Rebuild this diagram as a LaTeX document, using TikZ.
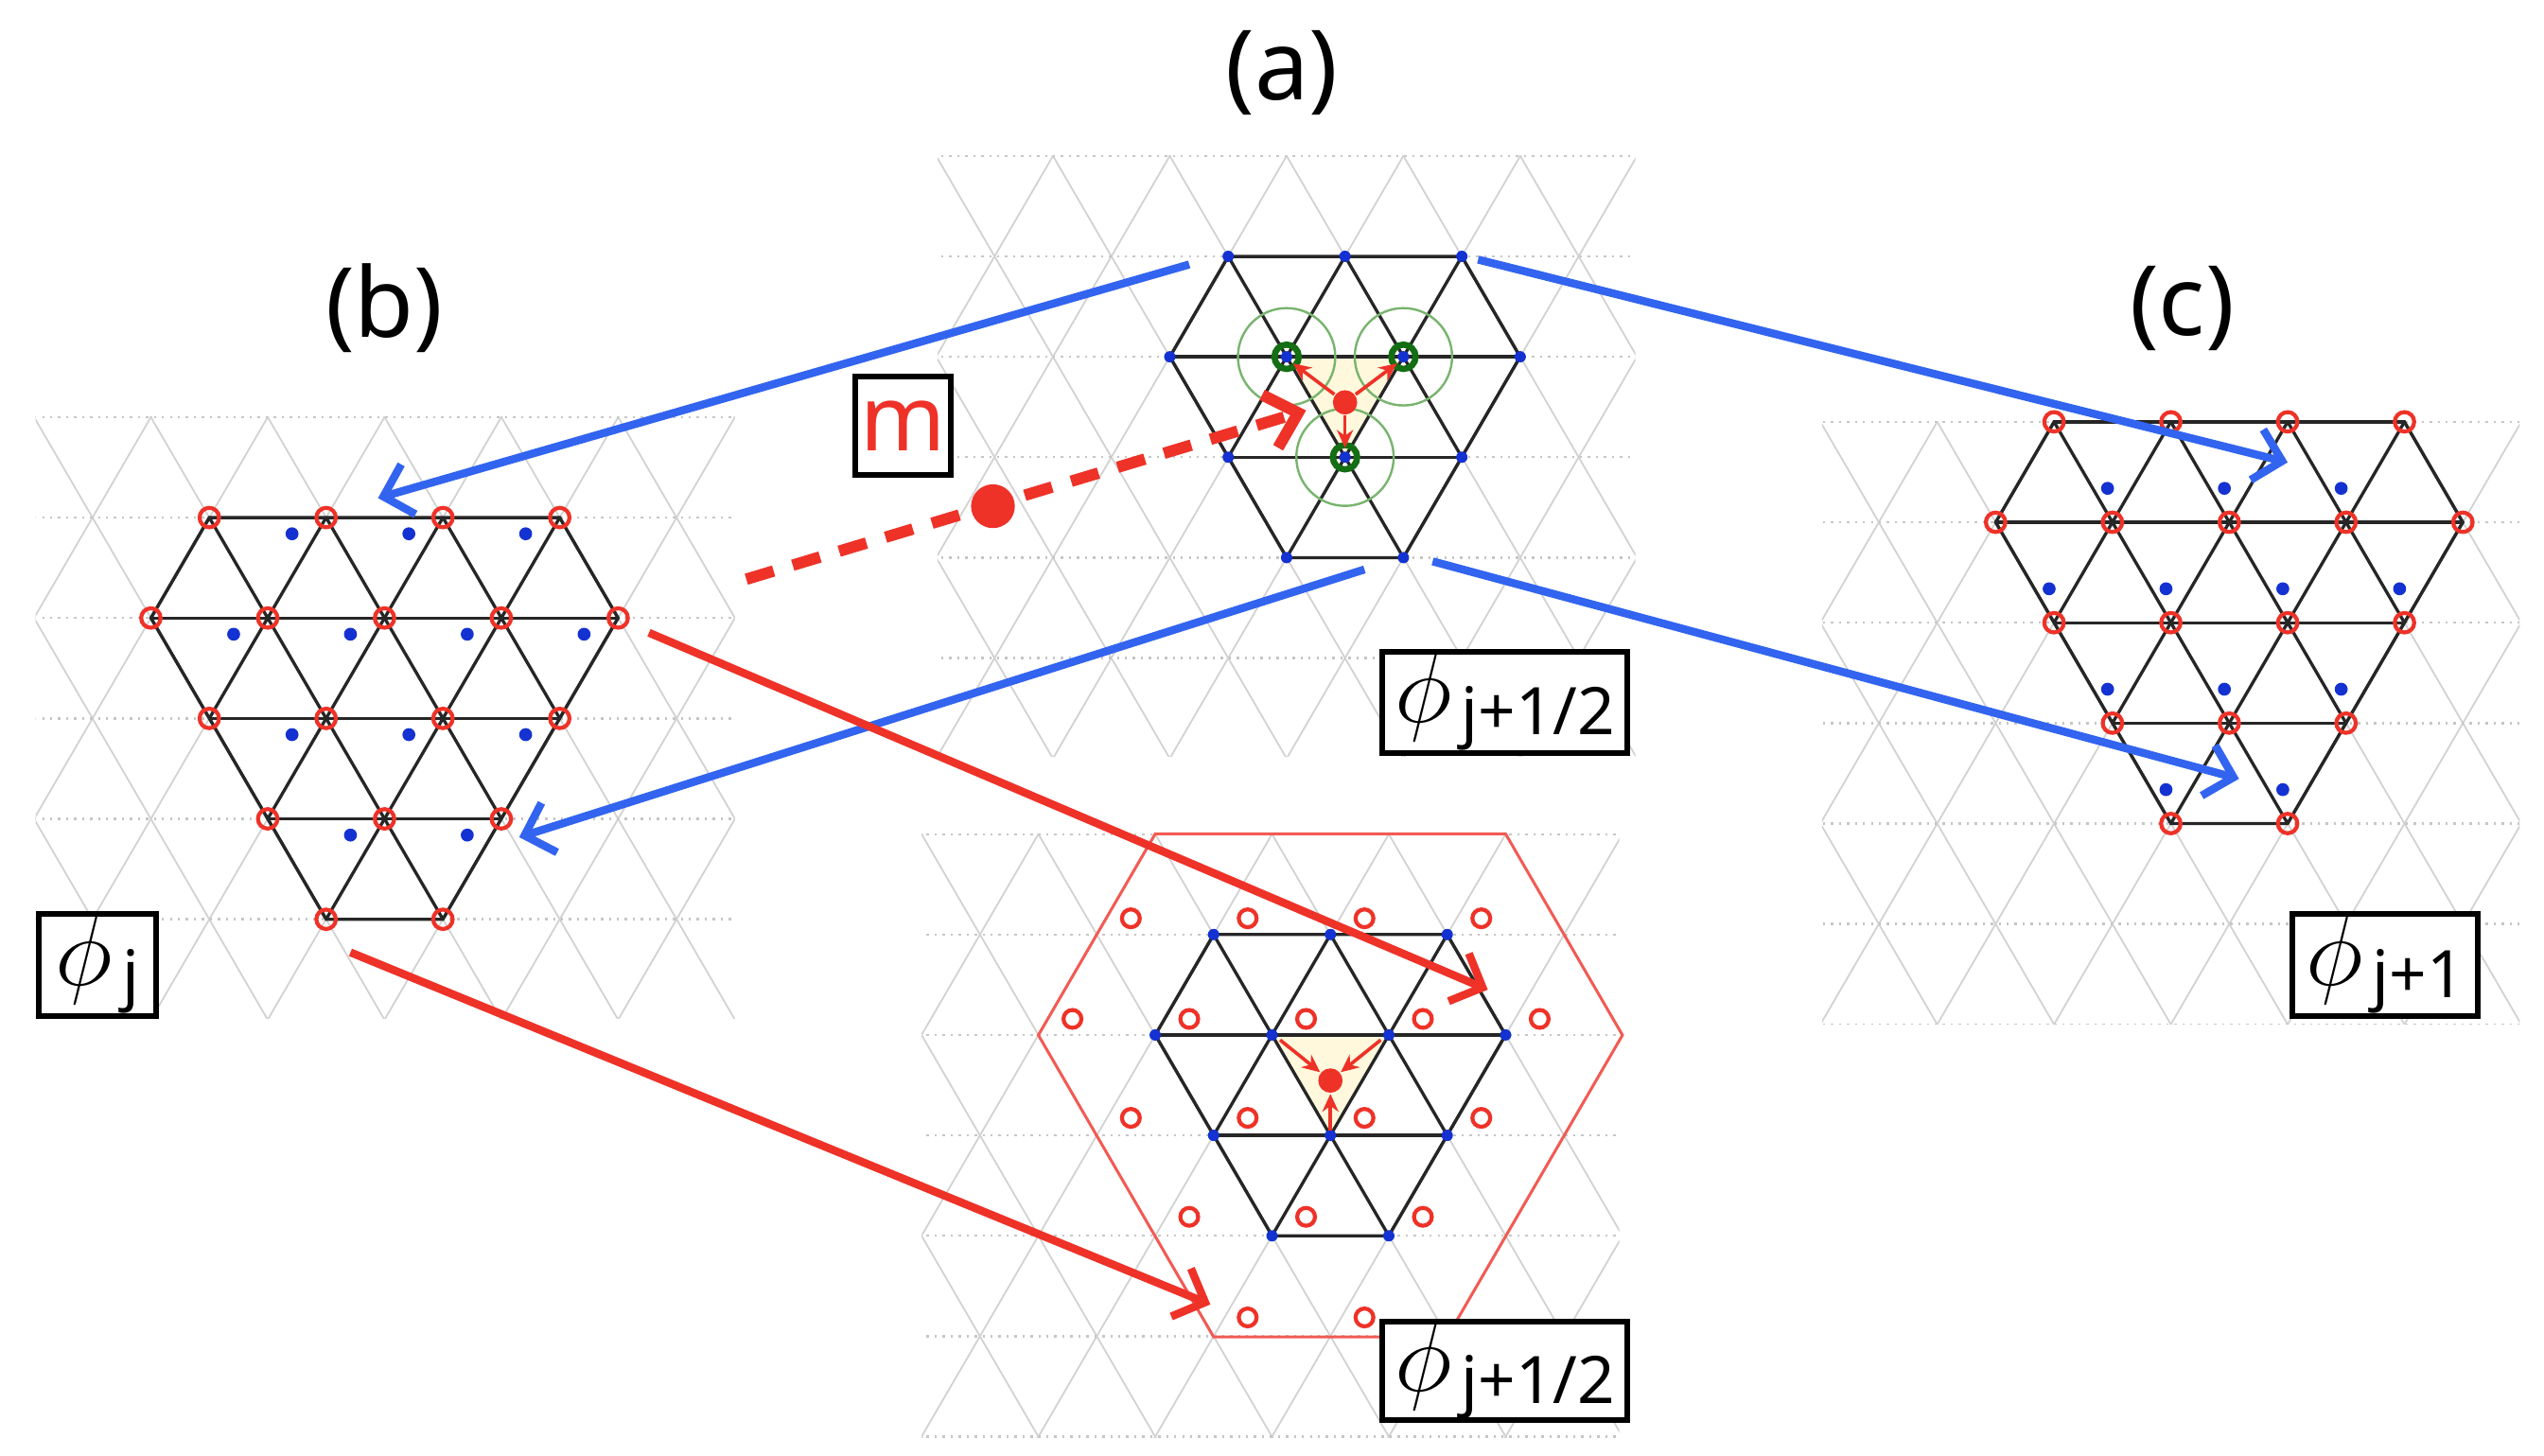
\documentclass[tikz,border=0pt]{standalone}
\usepackage{fontspec}
\setmainfont{Noto Sans}
\usetikzlibrary{arrows.meta}
\definecolor{myblue}{RGB}{50,100,240}
\definecolor{dotblue}{RGB}{20,50,210}
\definecolor{myred}{RGB}{238,50,40}
\definecolor{dgreen}{RGB}{20,110,20}
\definecolor{lgreen}{RGB}{120,180,110}
\definecolor{pyellow}{RGB}{255,248,220}
\newcommand{\latlines}[4]{%
 \foreach \k in {-14,...,14}{
  \draw[#3] ({#1+72*\k-36*8},{#2-61.9*8}) -- ({#1+72*\k+36*8},{#2+61.9*8});
  \draw[#3] ({#1+72*\k+36*8},{#2-61.9*8}) -- ({#1+72*\k-36*8},{#2+61.9*8});}
 \foreach \r in {-8,...,8} \draw[#4] ({#1-600},{#2+61.9*\r}) -- ({#1+600},{#2+61.9*\r});}
\newcommand{\greypanel}[6]{\begin{scope}\clip (#1,#2) rectangle (#3,#4);
 \latlines{#5}{#6}{gridd}{gridh}\end{scope}}
\newcommand{\blackpanel}[3]{\begin{scope}\clip #3;
 \latlines{#1}{#2}{blk}{blk}\end{scope}\draw[blk] #3;}
\tikzset{
 gridd/.style={gray!35,line width=0.3pt},
 gridh/.style={gray!45,line width=0.4pt,densely dotted},
 blk/.style={black!85,line width=0.55pt},
 rc/.style={myred,line width=0.7pt},
 bd/.style={fill=dotblue},
 bigarrow/.style={line width=1.4pt,-{Straight Barb[length=1.6mm,width=3.2mm]}},
 smallarrow/.style={myred,line width=0.6pt,-{Stealth[length=1.1mm,width=1mm]}},
 lbl/.style={draw,line width=1pt,fill=white,inner sep=0pt,align=center},
 title/.style={font=\fontsize{17}{17}\selectfont},
}
\newcommand{\phiL}[1]{{\fontsize{17}{17}\selectfont$\phi$}\,\raisebox{-0.4ex}{\fontsize{11.5}{12}\selectfont #1}}
\begin{document}
\begin{tikzpicture}[x=0.1mm,y=-0.1mm]
\useasboundingbox (0,0) rectangle (1568,897);
% grey lattices
\greypanel{22}{257}{453}{628}{129}{319}
\greypanel{578}{96}{1008}{466}{757}{158}
\greypanel{568}{514}{998}{886}{748}{576}
\greypanel{1123}{260}{1553}{631}{1266}{260}
% hexagon lower
\draw[myred!80,line width=0.5pt] (712,514) -- (928,514) -- (1000,638) -- (892,824) -- (748,824) -- (640,638) -- cycle;
% yellow triangles
\fill[pyellow] (793,220) -- (865,220) -- (829,282) -- cycle;
\fill[pyellow] (784,638) -- (856,638) -- (820,700) -- cycle;
% black lattices
\blackpanel{129}{319}{(129,319) -- (345,319) -- (381,380.9) -- (273,566.6) -- (201,566.6) -- (93,380.9) -- cycle}
\blackpanel{757}{158}{(757,158) -- (901,158) -- (937,219.9) -- (865,343.7) -- (793,343.7) -- (721,219.9) -- cycle}
\blackpanel{748}{576}{(748,576) -- (892,576) -- (928,637.9) -- (856,761.7) -- (784,761.7) -- (712,637.9) -- cycle}
\blackpanel{1266}{260}{(1266,260) -- (1482,260) -- (1518,321.9) -- (1410,507.6) -- (1338,507.6) -- (1230,321.9) -- cycle}
% panel b red circles and blue dots
\foreach \y/\xs/\n in {319/129/4,380.9/93/5,442.8/129/4,504.7/165/3,566.6/201/2}{
 \foreach \i in {1,...,\n} \draw[rc] ({\xs+72*(\i-1)},\y) circle[radius=0.6mm];}
\foreach \y/\xs/\n in {319/129/3,380.9/93/4,442.8/129/3,504.7/165/2}{
 \foreach \i in {1,...,\n} \fill[bd] ({\xs+72*(\i-1)+51},{\y+10}) circle[radius=0.4mm];}
% panel c
\foreach \y/\xs/\n in {260/1266/4,321.9/1230/5,383.8/1266/4,445.7/1302/3,507.6/1338/2}{
 \foreach \i in {1,...,\n} \draw[rc] ({\xs+72*(\i-1)},\y) circle[radius=0.6mm];}
\foreach \y/\xs/\n in {260/1266/3,321.9/1230/4,383.8/1266/3,445.7/1302/2}{
 \foreach \i in {1,...,\n} \fill[bd] ({\xs+72*(\i-1)+33},{\y+41}) circle[radius=0.4mm];}
% panel a top: blue vertices
\foreach \y/\xs/\n in {158/757/3,219.9/721/4,281.8/757/3,343.7/793/2}{
 \foreach \i in {1,...,\n} \fill[bd] ({\xs+72*(\i-1)},\y) circle[radius=0.35mm];}
\foreach \p in {(793,219.9),(865,219.9),(829,281.8)}{
 \draw[lgreen,line width=0.4pt] \p circle[radius=3mm];
 \draw[dgreen,line width=1.1pt] \p circle[radius=0.75mm];
 \fill[bd] \p circle[radius=0.3mm];}
\coordinate (ga) at (797,224); \coordinate (gb) at (861,224); \coordinate (gc) at (829,276);
\node[circle,fill=myred,inner sep=0pt,minimum size=1.5mm] (rd1) at (829,248) {};
\draw[smallarrow] (rd1) -- (ga); \draw[smallarrow] (rd1) -- (gb); \draw[smallarrow] (rd1) -- (gc);
% panel a lower
\foreach \y/\xs/\n in {576/748/3,637.9/712/4,699.8/748/3,761.7/784/2}{
 \foreach \i in {1,...,\n} \fill[bd] ({\xs+72*(\i-1)},\y) circle[radius=0.35mm];}
\foreach \y/\xs/\n in {566/697/4,628/661/5,689/697/4,750/733/3,812/769/2}{
 \foreach \i in {1,...,\n} \draw[rc] ({\xs+72*(\i-1)},\y) circle[radius=0.55mm];}
\node[circle,fill=myred,inner sep=0pt,minimum size=1.5mm] (rd2) at (820,666) {};
\coordinate (la) at (789,641); \coordinate (lb) at (851,641); \coordinate (lc) at (820,697);
\draw[smallarrow] (la) -- (rd2); \draw[smallarrow] (lb) -- (rd2); \draw[smallarrow] (lc) -- (rd2);
% m and big dot
\node[lbl,minimum width=5.9mm,minimum height=6.1mm,text=myred,font=\fontsize{16}{16}\selectfont] (m) at (556.5,262.5) {m};
\node[circle,fill=myred,inner sep=0pt,minimum size=2.7mm] (bigdot) at (612,312) {};
\coordinate (ds) at (460,357); \coordinate (de) at (805,253);
\draw[myred,line width=2pt,dash pattern=on 5pt off 3.5pt,-{Straight Barb[length=1.8mm,width=3.4mm]}] (ds) -- (de);
% titles
\node[title] (ta) at (790,45) {(a)};
\node[title] (tb) at (237,190) {(b)};
\node[title] (tc) at (1345,190) {(c)};
% label boxes
\node[lbl,minimum width=7.2mm,minimum height=6.3mm] (Lj) at (60,595) {\phiL{j}};
\node[lbl,minimum width=15.1mm,minimum height=6.2mm] (Lh1) at (927.5,433) {\phiL{j+1/2}};
\node[lbl,minimum width=15.1mm,minimum height=6.1mm] (Lh2) at (927.5,845) {\phiL{j+1/2}};
\node[lbl,minimum width=11.4mm,minimum height=6.3mm] (Lj1) at (1470,595) {\phiL{j+1}};
% big arrows
\coordinate (b1s) at (733,163); \coordinate (b1e) at (233,307);
\coordinate (b2s) at (911,160); \coordinate (b2e) at (1410,285);
\coordinate (b3s) at (841,351); \coordinate (b3e) at (320,516);
\coordinate (b4s) at (883,346); \coordinate (b4e) at (1380,480);
\coordinate (r1s) at (400,390); \coordinate (r1e) at (917,610);
\coordinate (r2s) at (216,587); \coordinate (r2e) at (746,804);
\draw[bigarrow,myblue] (b1s) -- (b1e);
\draw[bigarrow,myblue] (b2s) -- (b2e);
\draw[bigarrow,myblue] (b3s) -- (b3e);
\draw[bigarrow,myblue] (b4s) -- (b4e);
\draw[bigarrow,myred] (r1s) -- (r1e);
\draw[bigarrow,myred] (r2s) -- (r2e);
\end{tikzpicture}
\end{document}
